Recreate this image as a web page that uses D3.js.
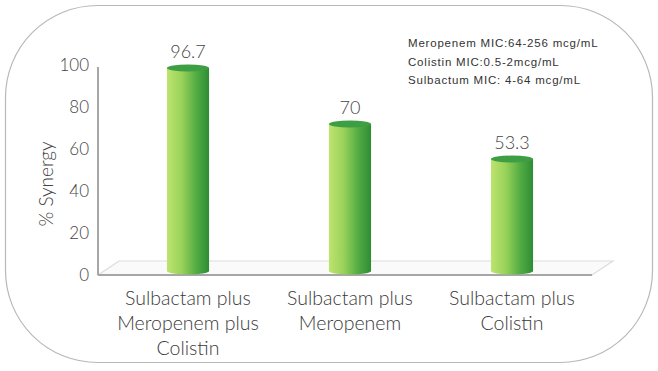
<!DOCTYPE html>
<html>
<head>
<meta charset="utf-8">
<script src="https://cdn.jsdelivr.net/npm/d3@7"></script>
<style>
  body { margin: 0; background: #fff; }
  svg { display: block; }
</style>
</head>
<body>
<div id="chart-area"></div>
<script>
// data
var categories = [
    ["Sulbactam plus", "Meropenem plus", "Colistin"],
    ["Sulbactam plus", "Meropenem"],
    ["Sulbactam plus", "Colistin"]
];
var synergy = [96.7, 70, 53.3];
var valueLabels = ["96.7", "70", "53.3"];
var yTicks = [0, 20, 40, 60, 80, 100];
var notes = [
    "Meropenem MIC:64-256 mcg/mL",
    "Colistin MIC:0.5-2mcg/mL",
    "Sulbactum MIC: 4-64 mcg/mL"
];

var width = 658, height = 371;
var font = "Lato, 'Noto Sans', sans-serif";

var svg = d3.select("#chart-area").append("svg")
    .attr("width", width)
    .attr("height", height);

var defs = svg.append("defs");
var grad = defs.append("linearGradient")
    .attr("id", "barGrad")
    .attr("x1", "0%").attr("x2", "100%")
    .attr("y1", "0%").attr("y2", "0%");
grad.append("stop").attr("offset", "0%").attr("stop-color", "#bde46f");
grad.append("stop").attr("offset", "35%").attr("stop-color", "#99d25a");
grad.append("stop").attr("offset", "70%").attr("stop-color", "#52ac42");
grad.append("stop").attr("offset", "100%").attr("stop-color", "#2f8c36");

// rounded frame
svg.append("rect")
    .attr("x", 5.5).attr("y", 5.5)
    .attr("width", 647).attr("height", 357)
    .attr("rx", 92).attr("ry", 92)
    .attr("fill", "none")
    .attr("stroke", "#b8b8b8")
    .attr("stroke-width", 1.2);

// scales
var x = d3.scaleBand()
    .domain(d3.range(categories.length))
    .range([107, 593])
    .paddingInner(0.74)
    .paddingOuter(0.37);

var y = d3.scaleLinear().domain([0, 100]).range([275, 65]);

var depth = 14, skew = 21;

// floor
var x0 = 98, x1 = 592;
svg.append("path")
    .attr("d", "M" + x0 + "," + y(0) + "L" + (x0 + skew) + "," + (y(0) - depth) +
        "L" + (x1 + skew) + "," + (y(0) - depth) + "L" + x1 + "," + y(0) + "Z")
    .attr("fill", "#fafafa")
    .attr("stroke", "#dcdcdc")
    .attr("stroke-width", 1.2);
svg.append("line")
    .attr("x1", x0).attr("x2", x1)
    .attr("y1", y(0)).attr("y2", y(0))
    .attr("stroke", "#a6a6a6")
    .attr("stroke-width", 2);

// y axis
var yAxis = svg.append("g")
    .attr("transform", "translate(" + x0 + ",0)")
    .call(d3.axisLeft(y).tickValues(yTicks).tickSize(0).tickPadding(9));
yAxis.select(".domain")
    .attr("d", "M0," + (y(100) + 2) + "V" + y(0))
    .attr("stroke", "#a6a6a6")
    .attr("stroke-width", 2);
yAxis.selectAll("text")
    .attr("font-family", font)
    .attr("font-weight", 300)
    .attr("font-size", 17)
    .attr("fill", "#444");

svg.append("text")
    .attr("transform", "translate(53,184) rotate(-90)")
    .attr("text-anchor", "middle")
    .attr("font-family", font)
    .attr("font-weight", 300)
    .attr("font-size", 19)
    .attr("fill", "#444")
    .text("% Synergy");

// bars (cylinders)
var rx = x.bandwidth() / 2, ry = 3.5;
var base = y(0) - depth / 2 + 3;

var bars = svg.selectAll("g.bar")
    .data(synergy)
    .enter().append("g")
    .attr("class", "bar");

bars.append("path")
    .attr("d", function (d, i) {
        var l = x(i), r = x(i) + x.bandwidth(), t = y(d) - 4;
        return "M" + l + "," + t + "L" + l + "," + base +
            "A" + rx + "," + ry + " 0 0 0 " + r + "," + base +
            "L" + r + "," + t + "Z";
    })
    .attr("fill", "url(#barGrad)");

bars.append("ellipse")
    .attr("cx", function (d, i) { return x(i) + rx; })
    .attr("cy", function (d) { return y(d) - 4; })
    .attr("rx", rx)
    .attr("ry", ry)
    .attr("fill", "#3d9e43");

bars.append("text")
    .attr("x", function (d, i) { return x(i) + rx; })
    .attr("y", function (d) { return y(d) - 14; })
    .attr("text-anchor", "middle")
    .attr("font-family", font)
    .attr("font-weight", 300)
    .attr("font-size", 18)
    .attr("fill", "#444")
    .text(function (d, i) { return valueLabels[i]; });

// category labels
var cat = svg.selectAll("text.cat")
    .data(categories)
    .enter().append("text")
    .attr("class", "cat")
    .attr("text-anchor", "middle")
    .attr("font-family", font)
    .attr("font-weight", 300)
    .attr("font-size", 19.5)
    .attr("fill", "#3a3a3a");
cat.selectAll("tspan")
    .data(function (d, i) { return d.map(function (s) { return {s: s, i: i}; }); })
    .enter().append("tspan")
    .attr("x", function (d) { return x(d.i) + rx; })
    .attr("y", function (d, j) { return 305 + j * 25; })
    .text(function (d) { return d.s; });

// MIC notes
svg.selectAll("text.note")
    .data(notes)
    .enter().append("text")
    .attr("class", "note")
    .attr("x", 408)
    .attr("y", function (d, i) { return 47 + i * 18.5; })
    .attr("font-family", "'Liberation Sans', Arial, sans-serif")
    .attr("font-size", 11.5)
    .attr("letter-spacing", 0.8)
    .attr("fill", "#333")
    .text(function (d) { return d; });
</script>
</body>
</html>
